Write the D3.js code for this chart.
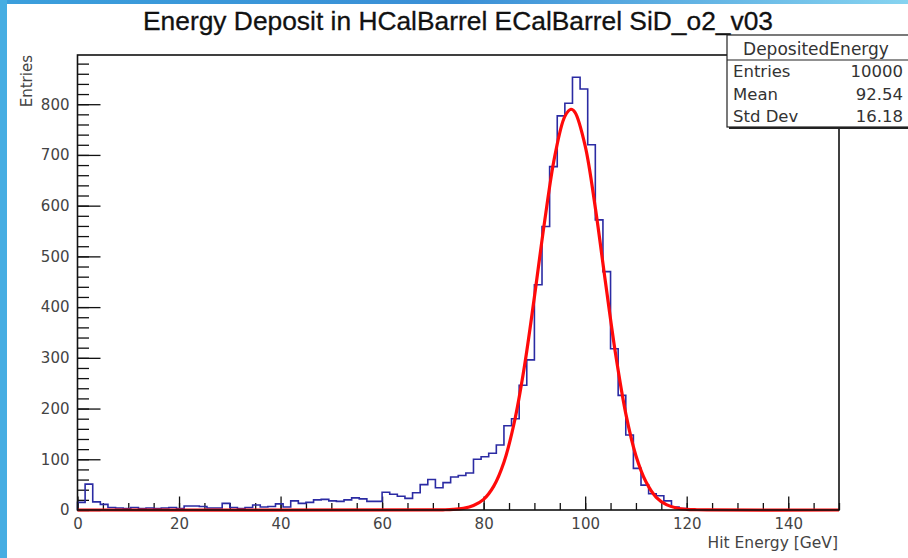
<!DOCTYPE html>
<html>
<head>
<meta charset="utf-8">
<script src="https://cdn.jsdelivr.net/npm/d3@7"></script>
<style>
  html, body { margin: 0; padding: 0; background: #fff; }
  svg { display: block; }
</style>
</head>
<body>
<svg id="chart" width="908" height="558"></svg>
<script>
// ---------------- data ----------------
const chartTitle = "Energy Deposit in HCalBarrel ECalBarrel SiD_o2_v03";
const xAxisTitle = "Hit Energy [GeV]";
const yAxisTitle = "Entries";
const histName = "DepositedEnergy";
const statLabels = ["Entries", "Mean", "Std Dev"];
const statValues = ["10000", "92.54", "16.18"];

const xRange = [0, 150];       // histogram axis range (GeV)
const yRange = [0, 897];       // frame y range (entries)
const xMajorTicks = [0, 20, 40, 60, 80, 100, 120, 140];
const yMajorTicks = [0, 100, 200, 300, 400, 500, 600, 700, 800];

// bin contents, 100 bins of 1.5 GeV from 0 to 150
const binCounts = [
  15, 51, 16, 11, 5, 4, 3, 5, 3, 4,
  3, 4, 5, 3, 8, 8, 7, 4, 4, 13,
  5, 3, 5, 10, 6, 7, 12, 6, 18, 13,
  15, 20, 21, 18, 17, 20, 24, 22, 17, 17,
  35, 31, 27, 23, 34, 50, 60, 44, 54, 65,
  68, 73, 100, 105, 112, 128, 166, 180, 246, 296,
  444, 559, 677, 777, 802, 853, 830, 720, 572, 470,
  318, 226, 148, 82, 49, 32, 28, 18, 6, 3,
  1, 0, 0, 0, 0, 0, 0, 0, 0, 0,
  0, 0, 0, 0, 0, 0, 0, 0, 0, 0
];

// fitted curve
const fitX = [0, 70, 72, 74, 76, 78, 80, 82, 84, 86, 88, 90, 92, 94, 96, 97.2, 98, 100, 102, 104, 106, 108, 110, 112, 114, 116, 118, 120, 122, 124, 150];
const fitY = [0, 0.1, 0.4, 1.1, 3.3, 8.8, 21, 47, 94, 171, 281, 420, 568, 697, 776, 790, 784, 718, 596, 449, 307, 190, 107, 55, 25, 10.6, 4, 1.4, 0.5, 0.1, 0];

// ---------------- drawing ----------------
const svg = d3.select("#chart");
const W = 908, H = 558;
const frame = { left: 77.5, right: 839, top: 55, bottom: 510 };

const x = d3.scaleLinear().domain(xRange).range([frame.left, frame.right]);
const y = d3.scaleLinear().domain(yRange).range([frame.bottom, frame.top]);

// slide background strips
const defs = svg.append("defs");
const grad = defs.append("linearGradient").attr("id", "topgrad").attr("x1", "0").attr("x2", "1");
grad.append("stop").attr("offset", "0").attr("stop-color", "#3b9fdc");
grad.append("stop").attr("offset", "0.5").attr("stop-color", "#3a8fd6");
grad.append("stop").attr("offset", "1").attr("stop-color", "#86d3f0");
svg.append("rect").attr("x", 0).attr("y", 0).attr("width", W).attr("height", 4).attr("fill", "url(#topgrad)");
svg.append("rect").attr("x", 0).attr("y", 0).attr("width", 7).attr("height", H).attr("fill", "#46ade2");

const fontFam = "'DejaVu Sans', 'Liberation Sans', sans-serif";

function fitText(sel, target) {
  const node = sel.node();
  let fs = parseFloat(sel.attr("font-size"));
  const len = node.getComputedTextLength();
  if (len > 0) sel.attr("font-size", (fs * target / len).toFixed(2));
}

// title
const title = svg.append("text")
  .attr("x", 458).attr("y", 30)
  .attr("text-anchor", "middle")
  .attr("font-family", "'Liberation Sans', Arial, sans-serif")
  .attr("font-size", 26)
  .attr("fill", "#111")
  .attr("stroke", "#111").attr("stroke-width", 0.3)
  .text(chartTitle);
fitText(title, 630);

// histogram binning
const nb = binCounts.length;
const bw = (xRange[1] - xRange[0]) / nb;
const histPts = [[xRange[0], 0]];
binCounts.forEach((c, i) => {
  histPts.push([xRange[0] + i * bw, c]);
  histPts.push([xRange[0] + (i + 1) * bw, c]);
});
histPts.push([xRange[1], 0]);

const plot = svg.append("g");

// axes (ticks inside the frame)
const yMinor = d3.range(0, yRange[1], 20);
const xMinor = d3.range(0, xRange[1] + 0.001, 5);

const gy = plot.append("g").attr("transform", `translate(${frame.left},0)`);
gy.call(d3.axisLeft(y).tickValues(yMinor).tickSize(-11.5).tickFormat(""));
gy.select(".domain").remove();
const gy2 = plot.append("g").attr("transform", `translate(${frame.left},0)`);
gy2.call(d3.axisLeft(y).tickValues(yMajorTicks).tickSize(-23).tickPadding(8).tickFormat(d3.format("d")));
gy2.select(".domain").remove();

const gx = plot.append("g").attr("transform", `translate(0,${frame.bottom})`);
gx.call(d3.axisBottom(x).tickValues(xMinor).tickSize(-7).tickFormat(""));
gx.select(".domain").remove();
const gx2 = plot.append("g").attr("transform", `translate(0,${frame.bottom})`);
gx2.call(d3.axisBottom(x).tickValues(xMajorTicks).tickSize(-13.5).tickPadding(8).tickFormat(d3.format("d")));
gx2.select(".domain").remove();

plot.selectAll(".tick line").attr("stroke", "#111").attr("stroke-width", 1.3);
plot.selectAll(".tick text")
  .attr("font-family", fontFam)
  .attr("font-size", 15)
  .attr("fill", "#444");

// histogram outline
const line = d3.line().x(d => x(d[0])).y(d => y(d[1]));
plot.append("path")
  .datum(histPts)
  .attr("d", line)
  .attr("fill", "none")
  .attr("stroke", "#2b2ba3")
  .attr("stroke-width", 1.6);

// fit curve
const fitPts = fitX.map((v, i) => [v, fitY[i]]);
plot.append("path")
  .datum(fitPts)
  .attr("d", d3.line().x(d => x(d[0])).y(d => y(d[1])).curve(d3.curveCatmullRom))
  .attr("fill", "none")
  .attr("stroke", "#ff0a0a")
  .attr("stroke-width", 3.2)
  .attr("stroke-linejoin", "round");

// frame
plot.append("rect")
  .attr("x", frame.left).attr("y", frame.top)
  .attr("width", frame.right - frame.left).attr("height", frame.bottom - frame.top)
  .attr("fill", "none").attr("stroke", "#111").attr("stroke-width", 1.6);

// axis titles
svg.append("text")
  .attr("transform", `translate(32,55) rotate(-90)`)
  .attr("text-anchor", "end")
  .attr("font-family", fontFam)
  .attr("font-size", 15)
  .attr("fill", "#444")
  .text(yAxisTitle);

svg.append("text")
  .attr("x", 838).attr("y", 548)
  .attr("text-anchor", "end")
  .attr("font-family", fontFam)
  .attr("font-size", 15.5)
  .attr("fill", "#444")
  .text(xAxisTitle);

// stats box
const sb = { x: 727, y: 35, w: 200, h: 92, sep: 60 };
const stats = svg.append("g");
stats.append("rect").attr("x", sb.x + 2).attr("y", sb.y + 2).attr("width", sb.w).attr("height", sb.h).attr("fill", "#222");
stats.append("rect").attr("x", sb.x).attr("y", sb.y).attr("width", sb.w).attr("height", sb.h)
  .attr("fill", "#fff").attr("stroke", "#222").attr("stroke-width", 1.2);
stats.append("line").attr("x1", sb.x).attr("x2", sb.x + sb.w).attr("y1", sb.sep).attr("y2", sb.sep)
  .attr("stroke", "#222").attr("stroke-width", 1.2);
const st = stats.append("text")
  .attr("x", 816).attr("y", 55)
  .attr("text-anchor", "middle")
  .attr("font-family", fontFam)
  .attr("font-size", 17)
  .attr("fill", "#333")
  .text(histName);
fitText(st, 146);
const rowY = [77, 100, 122];
statLabels.forEach((lab, i) => {
  stats.append("text").attr("x", 733).attr("y", rowY[i])
    .attr("font-family", fontFam).attr("font-size", 16.5).attr("fill", "#333").text(lab);
  stats.append("text").attr("x", 903).attr("y", rowY[i]).attr("text-anchor", "end")
    .attr("font-family", fontFam).attr("font-size", 16.5).attr("fill", "#333").text(statValues[i]);
});
</script>
</body>
</html>
